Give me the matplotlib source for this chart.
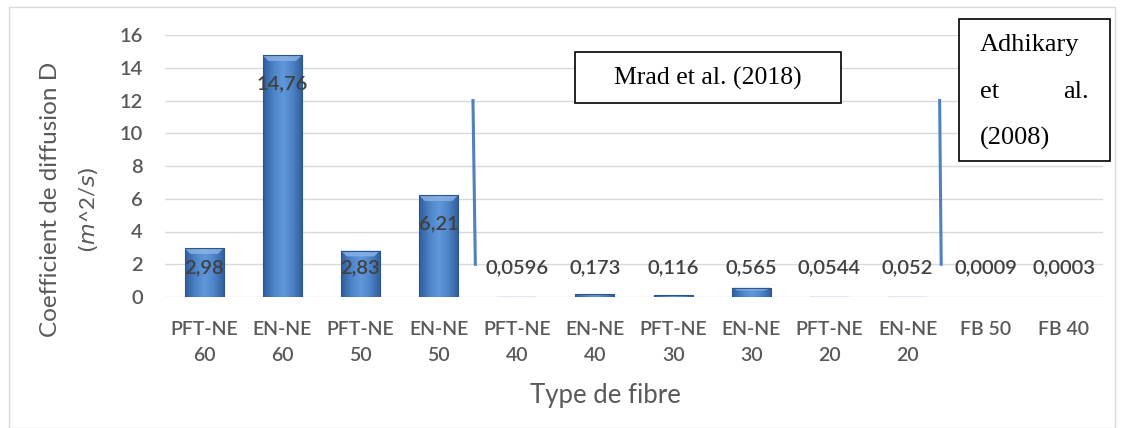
import numpy as np
import matplotlib
matplotlib.use("Agg")
import matplotlib.pyplot as plt
from matplotlib.patches import Rectangle, Polygon
from matplotlib.colors import LinearSegmentedColormap

# Fibre types and their diffusion coefficients
categories = ["PFT-NE\n60", "EN-NE\n60", "PFT-NE\n50", "EN-NE\n50",
              "PFT-NE\n40", "EN-NE\n40", "PFT-NE\n30", "EN-NE\n30",
              "PFT-NE\n20", "EN-NE\n20", "FB 50", "FB 40"]
values = [2.98, 14.76, 2.83, 6.21, 0.0596, 0.173, 0.116, 0.565,
          0.0544, 0.052, 0.0009, 0.0003]
value_labels = ["2,98", "14,76", "2,83", "6,21", "0,0596", "0,173", "0,116",
                "0,565", "0,0544", "0,052", "0,0009", "0,0003"]
yticks = [0, 2, 4, 6, 8, 10, 12, 14, 16]

GRAY = "#595959"
FONT = "Lato"
WEIGHT = "semibold"

fig = plt.figure(figsize=(11.23, 4.28), dpi=100)
fig.patches.append(Rectangle((9 / 1123, 0.0), 1106 / 1123, (428 - 7) / 428,
                             transform=fig.transFigure, fill=False,
                             edgecolor="#d9d9d9", linewidth=1.0))

ax = fig.add_axes([165 / 1123, (428 - 297) / 428, 938 / 1123, 262 / 428])
x = np.arange(len(categories))

for s in ax.spines.values():
    s.set_visible(False)
ax.set_yticks(yticks)
ax.yaxis.grid(True, color="#d9d9d9", linewidth=1.0)
ax.set_axisbelow(True)
ax.tick_params(axis="both", length=0, labelsize=14.5, labelcolor=GRAY)
ax.tick_params(axis="y", pad=16)
ax.tick_params(axis="x", pad=17)
ax.set_xticks(x)
ax.set_xticklabels(categories, fontfamily=FONT, fontweight=WEIGHT,
                   linespacing=1.65, fontsize=14)
for lab in ax.get_yticklabels():
    lab.set_fontfamily(FONT)
    lab.set_fontweight(WEIGHT)

# Bars with a bevelled blue gradient
width = 0.5
cmap = LinearSegmentedColormap.from_list(
    "bevel", ["#2f5d9a", "#4c82c6", "#6198dc", "#4c82c6", "#2f5d9a"])
grad = np.linspace(0, 1, 64).reshape(1, -1)
bars = ax.bar(x, values, width=width, color="#4c82c6", edgecolor="none", zorder=2)
for b in bars:
    x0, h = b.get_x(), b.get_height()
    if h < 0.1:
        b.set_facecolor("#dfe6ef")
        continue
    im = ax.imshow(grad, cmap=cmap, aspect="auto", zorder=2.1,
                   extent=(x0, x0 + width, 0, h), interpolation="bicubic")
    im.set_clip_path(b)
    bev = min(0.35, h * 0.3)
    ax.add_patch(Polygon([(x0, h), (x0 + width, h),
                          (x0 + width * 0.85, h - bev), (x0 + width * 0.15, h - bev)],
                         closed=True, facecolor="#8db4e6", edgecolor="none",
                         alpha=0.8, zorder=2.2))
    ax.add_patch(Rectangle((x0, 0), width, h, fill=False,
                           edgecolor="#2b5690", linewidth=0.8, zorder=2.3))
ax.set_xlim(-0.5, len(categories) - 0.5)
ax.set_ylim(0, 16)

# Value labels
for xi, v, lab in zip(x, values, value_labels):
    y = max(v - 1.72, 1.78) if v > 5 else 1.78
    ax.text(xi, y, lab, ha="center", va="center", fontsize=14.5,
            color="#404040", fontfamily=FONT, fontweight=WEIGHT, zorder=3)

# Separators between data sources
ax.plot([3.44, 3.47], [12, 2], color="#4f81bd", linewidth=2.2, zorder=3)
ax.plot([9.41, 9.43], [12, 2], color="#4f81bd", linewidth=2.2, zorder=3)

# Source boxes
fig.patches.append(Rectangle((575 / 1123, (428 - 103) / 428), 266 / 1123, 51 / 428,
                             transform=fig.transFigure, facecolor="white",
                             edgecolor="black", linewidth=1.2, zorder=5))
fig.text(708 / 1123, (428 - 78) / 428, "Mrad et al. (2018)", ha="center",
         va="center", fontsize=18.5, fontfamily="Liberation Serif", color="black",
         zorder=6)
fig.patches.append(Rectangle((959 / 1123, (428 - 161) / 428), 151 / 1123, 142 / 428,
                             transform=fig.transFigure, facecolor="white",
                             edgecolor="black", linewidth=1.2, zorder=5))
for txt, xx, yy, ha in [("Adhikary", 980, 45, "left"), ("et", 980, 92, "left"),
                        ("al.", 1089, 92, "right"), ("(2008)", 980, 138, "left")]:
    fig.text(xx / 1123, (428 - yy) / 428, txt, ha=ha, va="center", fontsize=19,
             fontfamily="Liberation Serif", color="black", zorder=6)

# Axis titles
fig.text(51 / 1123, (428 - 199) / 428, "Coefficient de diffusion D", rotation=90,
         ha="center", va="center", fontsize=17.5, color=GRAY, fontfamily=FONT)
fig.text(88 / 1123, (428 - 210) / 428, r"$(m$^2/$s)$", rotation=90,
         ha="center", va="center", fontsize=16, color=GRAY, fontfamily=FONT)
fig.text(605 / 1123, (428 - 395) / 428, "Type de fibre", ha="center",
         va="center", fontsize=18.5, color=GRAY, fontfamily=FONT)

fig.savefig("out.png", dpi=100)
